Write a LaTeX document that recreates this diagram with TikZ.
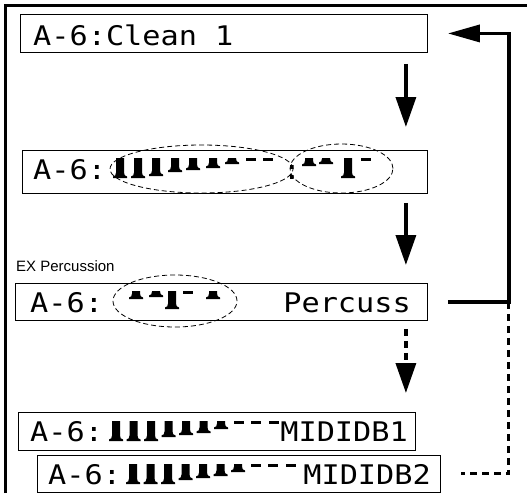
\documentclass[tikz,border=0pt]{standalone}
\usepackage{fontspec}
\setmainfont{Liberation Sans}
\newfontfamily\lcd[FakeStretch=1.12]{DejaVu Sans Mono}
\usetikzlibrary{arrows.meta,calc}
\tikzset{
  lcdbox/.style={draw=black, line width=0.9pt, inner sep=0pt, anchor=north west},
  lcdtext/.style={inner sep=0pt, font=\lcd\fontsize{27}{27}\selectfont},
  flowarrow/.style={line width=3.5pt, -{Triangle[length=30pt,width=20pt]}},
  backarrow/.style={line width=3.5pt, -{Triangle[length=32pt,width=17pt]}},
  backdash/.style={line width=3pt, dash pattern=on 7pt off 5pt},
  groupring/.style={line width=0.8pt, dash pattern=on 5pt off 3pt},
  labeltext/.style={inner sep=0pt, font=\fontsize{15}{15}\selectfont}
}
\newcommand\dbar[3]{%
  \ifnum#3=0
    \fill (#1-5,#2) rectangle (#1+5,#2+3);
  \else
    \pgfmathsetmacro\dbL{4+2*#3}%
    \fill (#1-4,#2) -- (#1+4,#2) -- (#1+4,#2+\dbL-5.5) .. controls (#1+4.5,#2+\dbL-2.5) .. (#1+7,#2+\dbL-1.5)
      -- (#1+7,#2+\dbL) -- (#1-7,#2+\dbL) -- (#1-7,#2+\dbL-1.5) .. controls (#1-4.5,#2+\dbL-2.5) .. (#1-4,#2+\dbL-5.5) -- cycle;
  \fi}
\begin{document}
\begin{tikzpicture}[x=1pt,y=-1pt]
\useasboundingbox (0,0) rectangle (527,493);
% frame
\draw[line width=3pt] (5.5,493) -- (5.5,5.5) -- (527,5.5);
% boxes
\node[lcdbox, minimum width=407pt, minimum height=38pt] (b1) at (20,14) {};
\node[lcdbox, minimum width=405pt, minimum height=43pt] (b2) at (22,150) {};
\node[lcdbox, minimum width=412pt, minimum height=37pt] (b3) at (15,283) {};
\node[lcdbox, minimum width=397pt, minimum height=38pt] (b4) at (18,412) {};
\node[lcdbox, minimum width=403pt, minimum height=37pt] (b5) at (37,455) {};
% texts
\node[lcdtext, anchor=base west] (t1) at (33,45) {A-6:Clean 1};
\node[lcdtext, anchor=base west] (t2) at (33,179) {A-6:};
\node[lcdtext, anchor=base] (t2c) at (292,179) {:};
\node[lcdtext, anchor=base west] (t3) at (30,312) {A-6:};
\node[lcdtext, anchor=base east] (t3b) at (411,312) {Percuss};
\node[lcdtext, anchor=base west] (t4) at (30,441) {A-6:};
\node[lcdtext, anchor=base east] (t4b) at (408,441) {MIDIDB1};
\node[lcdtext, anchor=base west] (t5) at (48,484) {A-6:};
\node[lcdtext, anchor=base east] (t5b) at (431,484) {MIDIDB2};
\node[labeltext, anchor=base west] (lbl) at (16,271) {EX Percussion};
% drawbar glyphs
\foreach \gx/\gl in {120/8,138/8,156/7,175/5,193/4,213/3,232/1,251/0,268/0} {\dbar{\gx}{158}{\gl}}
\foreach \gx/\gl in {309/2,326/1,348/8,366/0} {\dbar{\gx}{158}{\gl}}
\foreach \gx/\gl in {136/2,156/1,172/7,188/0,213/2} {\dbar{\gx}{291}{\gl}}
\foreach \gx/\gl in {116/8,133.5/8,151/8,168.5/6,186/5,203.5/4,221/2,238.5/0,256/0,273.5/0} {\dbar{\gx}{421}{\gl}}
\foreach \gx/\gl in {133/8,150.5/8,168/8,185.5/6,203/5,220.5/4,238/2,255.5/0,273/0,290.5/0} {\dbar{\gx}{464}{\gl}}
% dashed rings
\draw[groupring] (201.5,169) ellipse [x radius=91.5pt, y radius=24pt];
\draw[groupring] (341.5,168.5) ellipse [x radius=51.5pt, y radius=24.5pt];
\draw[groupring] (175,301) ellipse [x radius=62pt, y radius=26pt];
% connectors
\draw[flowarrow] ([xshift=-22pt,yshift=-11pt]b1.south east) -- ([xshift=-22pt,yshift=23pt]b2.north east);
\draw[flowarrow] ([xshift=-22pt,yshift=-9pt]b2.south east) -- ([xshift=-22pt,yshift=18pt]b3.north east);
\draw[flowarrow, dash pattern=on 7pt off 5pt] ([xshift=-22pt,yshift=-8pt]b3.south east) -- ([xshift=-10pt,yshift=19pt]b4.north east);
\draw[backarrow] ([xshift=20pt]b3.east) -- ++(61pt,0pt) coordinate (fb) |- ([xshift=20pt]b1.east);
\draw[backdash] (fb) |- ([xshift=20pt]b5.east);
\end{tikzpicture}
\end{document}
